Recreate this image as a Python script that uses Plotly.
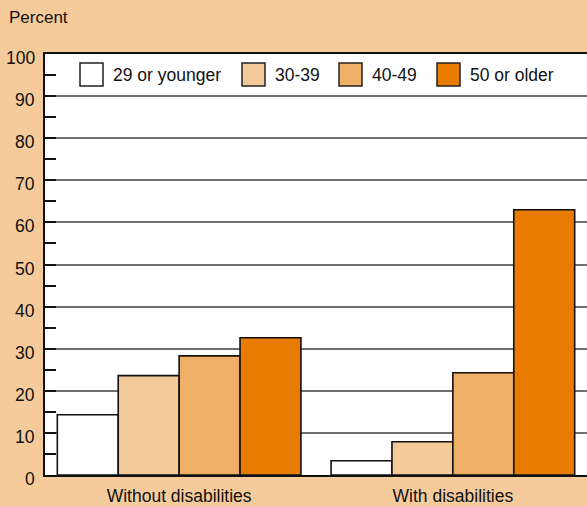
import plotly.graph_objects as go

# Data
groups = ["Without disabilities", "With disabilities"]
age_bands = ["29 or younger", "30-39", "40-49", "50 or older"]
pct_29_or_younger = [14.3, 3.4]
pct_30_39 = [23.6, 7.9]
pct_40_49 = [28.3, 24.3]
pct_50_or_older = [32.6, 63.0]
y_ticks = list(range(0, 101, 10))

series_values = [pct_29_or_younger, pct_30_39, pct_40_49, pct_50_or_older]
colors = ["#FFFFFF", "#F5CA9A", "#F0AF67", "#E87B00"]
page_bg = "#F5CB9B"
font_family = "Liberation Sans, Arial, sans-serif"
fs = 17.5

fig = go.Figure()
for name, vals, col in zip(age_bands, series_values, colors):
    fig.add_trace(go.Bar(
        x=groups, y=vals, name=name,
        marker=dict(color=col, line=dict(color="#111111", width=1.6)),
        showlegend=False,
    ))

# Plot geometry (pixels) for the hand-drawn legend and labels
W, H = 587, 506
ml, mr, mt, mb = 45, 0, 54, 31
pw, ph = W - ml - mr, H - mt - mb

def px_x(p):
    return (p - ml) / pw

def px_y(p):
    return (H - mb - p) / ph

legend_box_left = [80, 242, 339, 437]
box_size = 23
box_top = 63
shapes = []
annotations = []
for name, col, bx in zip(age_bands, colors, legend_box_left):
    shapes.append(dict(
        type="rect", xref="paper", yref="paper",
        x0=px_x(bx), x1=px_x(bx + box_size),
        y0=px_y(box_top + box_size), y1=px_y(box_top),
        fillcolor=col, line=dict(color="#222222", width=1.5), layer="above",
    ))
    annotations.append(dict(
        text=name, xref="paper", yref="paper",
        x=px_x(bx + box_size + 8), y=px_y(box_top + box_size / 2),
        xanchor="left", yanchor="middle", showarrow=False,
        font=dict(family=font_family, size=fs, color="#111111"),
    ))

# Y tick labels, set slightly below their gridlines
for v in y_ticks:
    annotations.append(dict(
        text=str(v), xref="paper", yref="y", x=px_x(37), y=v,
        xanchor="right", yanchor="middle", yshift=-4, showarrow=False,
        font=dict(family=font_family, size=fs, color="#111111"),
    ))

annotations.append(dict(
    text="Percent", xref="paper", yref="paper",
    x=px_x(7), y=px_y(18), xanchor="left", yanchor="middle",
    showarrow=False, font=dict(family=font_family, size=fs - 0.5, color="#111111"),
))

fig.update_layout(
    width=W, height=H,
    margin=dict(l=ml, r=mr, t=mt, b=mb, pad=0),
    paper_bgcolor=page_bg, plot_bgcolor="#FFFFFF",
    barmode="group", bargap=0.11, bargroupgap=0,
    font=dict(family=font_family, size=fs, color="#111111"),
    shapes=shapes, annotations=annotations,
    xaxis=dict(
        range=[-0.49, 1.49], showgrid=False, ticks="",
        showline=True, mirror=True, linecolor="#111111", linewidth=2,
        tickfont=dict(size=fs), ticklabelstandoff=4, fixedrange=True,
    ),
    yaxis=dict(
        range=[0, 100], tickvals=y_ticks, showgrid=True,
        gridcolor="#6E6E6E", gridwidth=1.5,
        showline=True, linecolor="#111111", linewidth=2,
        ticks="inside", ticklen=11, tickcolor="#111111", tickwidth=1.5,
        minor=dict(dtick=5, ticks="inside", ticklen=11, tickcolor="#111111",
                   tickwidth=1.5, showgrid=False),
        zeroline=False, showticklabels=False,
    ),
)

fig.write_html("out.html")
